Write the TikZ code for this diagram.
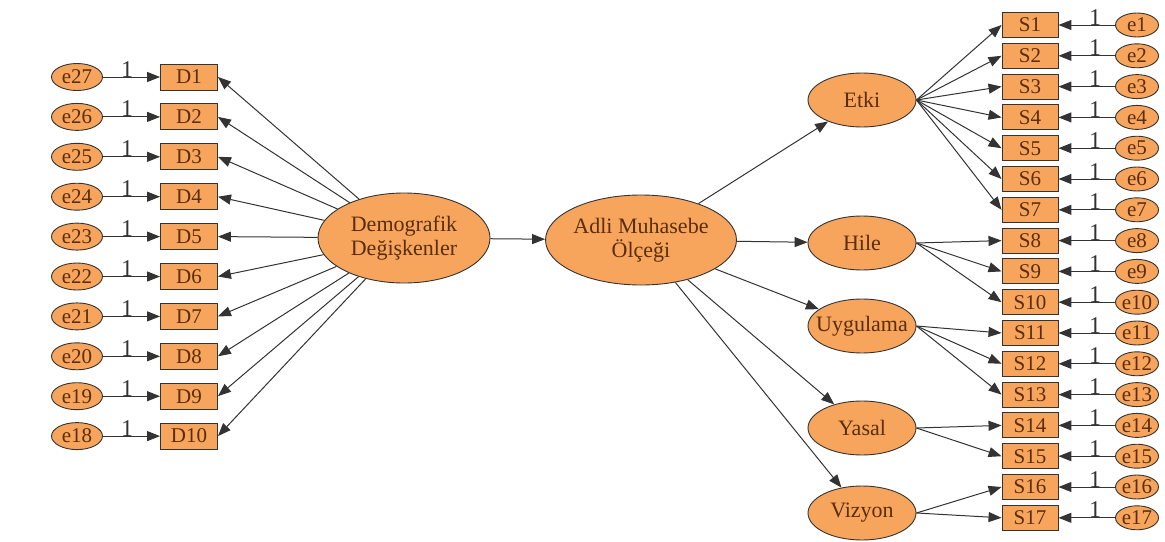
\documentclass[tikz,border=0pt]{standalone}
\usepackage{fontspec}
\setmainfont{Liberation Serif}
\newfontfamily\tnrfont{Liberation Serif}
\usetikzlibrary{arrows.meta,shapes.geometric}
\definecolor{fillor}{HTML}{F7A55C}
\definecolor{txt}{HTML}{5A2E0A}
\definecolor{edgec}{HTML}{333333}
\newcommand\zerowd[1]{\makebox[0pt][c]{#1}}
\begin{document}
\begin{tikzpicture}[x=1pt,y=-1pt,
  base/.style={draw=edgec, fill=fillor, line width=0.9pt, inner sep=0pt, text=txt,
    font=\tnrfont\fontsize{21}{21}\selectfont},
  dbox/.style={base, rectangle, minimum width=57pt, minimum height=26pt},
  sbox/.style={base, rectangle, minimum width=56pt, minimum height=25pt},
  errl/.style={base, ellipse, minimum width=51pt, minimum height=27pt},
  errr/.style={base, ellipse, minimum width=43pt, minimum height=24pt},
  fac/.style={base, ellipse, minimum width=108pt, minimum height=54pt,
    font=\tnrfont\fontsize{22}{22}\selectfont},
  big/.style={base, ellipse, minimum width=172pt, minimum height=90pt, align=center,
    font=\tnrfont\fontsize{22}{24}\selectfont},
  arr/.style={draw=edgec, line width=1pt, -{Triangle[length=13pt,width=10pt]}},
  one/.style={anchor=base, inner sep=0pt, text=edgec, font=\tnrfont\fontsize{24}{24}\selectfont}
]
\useasboundingbox (0,0) rectangle (1165,541);

% central latent variables
\node[big] (demo) at (404,238) {Demografik\\Değişkenler};
\node[big] (adli) at (641,240) {Adli Muhasebe\\Ölçeği};
\draw[arr] (demo) -- (adli);

% left indicators
\foreach \i [evaluate=\i as \yy using 77+(\i-1)*39.9, evaluate=\i as \en using int(28-\i)] in {1,...,10} {
  \node[dbox] (D\i) at (189,\yy) {D\i};
  \node[errl] (eL\i) at (77,\yy) {\zerowd{e\en}};
  \draw[arr] (eL\i) -- (D\i);
  \node[one] (oneL\i) at (127,\yy) {1};
  \draw[arr] (demo) -- (D\i.east);
}

% factors
\node[fac] (etki) at (862,100) {\zerowd{Etki}};
\node[fac] (hile) at (862,243) {\zerowd{Hile}};
\node[fac] (uyg) at (862,326) {\zerowd{Uygulama}};
\node[fac] (yasal) at (862,428) {\zerowd{Yasal}};
\node[fac] (viz) at (862,513) {\zerowd{Vizyon}};
\foreach \f in {etki,hile,uyg,yasal,viz} { \draw[arr] (adli) -- (\f); }

% right indicators
\foreach \i [evaluate=\i as \yy using 25+(\i-1)*30.8] in {1,...,17} {
  \node[sbox] (S\i) at (1030,\yy) {S\i};
  \node[errr] (eR\i) at (1137,\yy) {\zerowd{e\i}};
  \draw[arr] (eR\i) -- (S\i);
  \node[one] (oneR\i) at (1095,\yy) {1};
}

\foreach \s in {1,...,7} { \draw[arr] (etki.east) -- (S\s.west); }
\foreach \s in {8,9,10} { \draw[arr] (hile.east) -- (S\s.west); }
\foreach \s in {11,12,13} { \draw[arr] (uyg.east) -- (S\s.west); }
\foreach \s in {14,15} { \draw[arr] (yasal.east) -- (S\s.west); }
\foreach \s in {16,17} { \draw[arr] (viz.east) -- (S\s.west); }
\end{tikzpicture}
\end{document}
